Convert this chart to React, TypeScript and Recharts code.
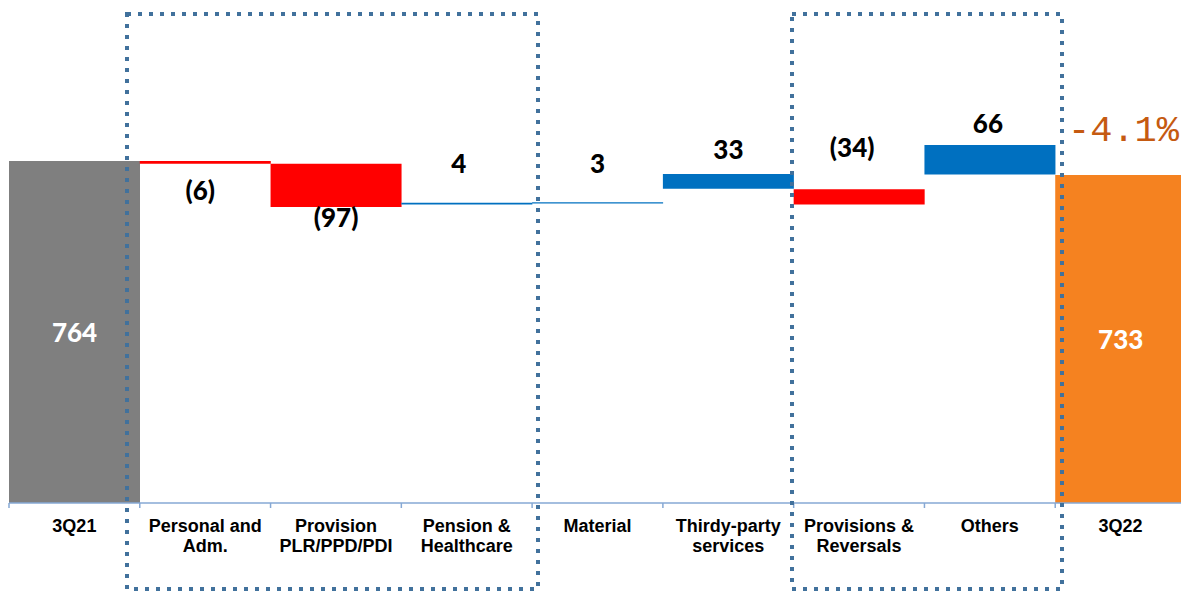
import React from "react";
import { BarChart, Bar, XAxis, YAxis, Cell, LabelList } from "recharts";

const categories = [
  "3Q21",
  "Personal and\nAdm.",
  "Provision\nPLR/PPD/PDI",
  "Pension &\nHealthcare",
  "Material",
  "Thirdy-party\nservices",
  "Provisions &\nReversals",
  "Others",
  "3Q22",
];
const changes = [764, -6, -97, 4, 3, 33, -34, 66, 733];
const barLow = [0, 758, 661, 667, 669, 702, 667, 734, 0];
const barHigh = [764, 764, 758, 671, 672, 735, 701, 800, 733];
const kinds = ["start", "down", "down", "up", "up", "up", "down", "up", "end"];
const variation = "-4.1%";

const COLORS: Record<string, string> = {
  start: "#7F7F7F",
  down: "#FF0000",
  up: "#0070C0",
  end: "#F58220",
};

// label placement: where the label sits relative to its bar, plus nudges
const labelPlace = ["inside", "below", "below", "above", "above", "above", "above", "above", "inside"];
const labelDy = [0, 26, 10, -40, -39, -25, -42, -22, 0];
const labelDx = [0, -5, 0, -8, 0, 0, -7, -2, 0];

const W = 1190;
const H = 591;
const M = { top: 3, right: 4, left: 9, bottom: 0 };
const AXIS_H = 88;
const BAND = (W - M.left - M.right) / categories.length;

const data = categories.map((name, i) => ({
  name,
  range: [barLow[i], barHigh[i]],
  change: changes[i],
  kind: kinds[i],
}));

const fmt = (v: number) => (v < 0 ? `(${Math.abs(v)})` : String(v));

function CategoryTick(props: any) {
  const { x, y, payload } = props;
  const lines = String(payload.value).split("\n");
  return (
    <g>
      <line x1={x - BAND / 2} x2={x - BAND / 2} y1={y} y2={y + 5} stroke="#86A8D4" strokeWidth={1.5} />
      {lines.map((t, i) => (
        <text
          key={i}
          x={x}
          y={y + 23 + i * 20}
          textAnchor="middle"
          dominantBaseline="central"
          fontFamily="'Liberation Sans', Arial, sans-serif"
          fontWeight="bold"
          fontSize={18}
          fill="#000"
        >
          {t}
        </text>
      ))}
    </g>
  );
}

function ValueLabel(props: any) {
  const { x, y, width, height, index } = props;
  const place = labelPlace[index];
  const top = Math.min(y, y + height);
  const bottom = Math.max(y, y + height);
  let cy = top + (bottom - top) / 2;
  if (place === "below") cy = bottom + labelDy[index];
  if (place === "above") cy = top + labelDy[index];
  return (
    <text
      x={x + width / 2 + labelDx[index]}
      y={cy}
      textAnchor="middle"
      dominantBaseline="central"
      fontFamily="Lato, 'Open Sans', sans-serif"
      fontWeight={900}
      fontSize={26}
      fill={place === "inside" ? "#FFFFFF" : "#000000"}
    >
      {fmt(changes[index])}
    </text>
  );
}

export default function App() {
  return (
    <div style={{ position: "absolute", left: 0, top: 0, width: 1181, height: H, overflow: "hidden", background: "#fff" }}>
      <BarChart width={W} height={H} data={data} margin={M} barCategoryGap={0}>
        <XAxis
          dataKey="name"
          interval={0}
          height={AXIS_H}
          tickSize={0}
          tickMargin={0}
          tickLine={false}
          axisLine={{ stroke: "#86A8D4", strokeWidth: 1.5 }}
          tick={<CategoryTick />}
        />
        <YAxis hide domain={[0, 1117]} />
        <Bar dataKey="range" isAnimationActive={false}>
          {data.map((d, i) => (
            <Cell key={i} fill={COLORS[d.kind]} />
          ))}
          <LabelList dataKey="change" content={<ValueLabel />} />
        </Bar>
      </BarChart>
      <svg width={1181} height={H} style={{ position: "absolute", left: 0, top: 0, pointerEvents: "none" }}>
        <rect x={127} y={14} width={411} height={575} fill="none" stroke="#41719C" strokeWidth={4} strokeDasharray="4 7" />
        <rect x={792} y={14} width={270} height={575} fill="none" stroke="#41719C" strokeWidth={4} strokeDasharray="4 7" />
        <text x={1068} y={141} fontFamily="'Liberation Mono', 'DejaVu Sans Mono', monospace" fontSize={37} fill="#C55A11">
          {variation}
        </text>
      </svg>
    </div>
  );
}
